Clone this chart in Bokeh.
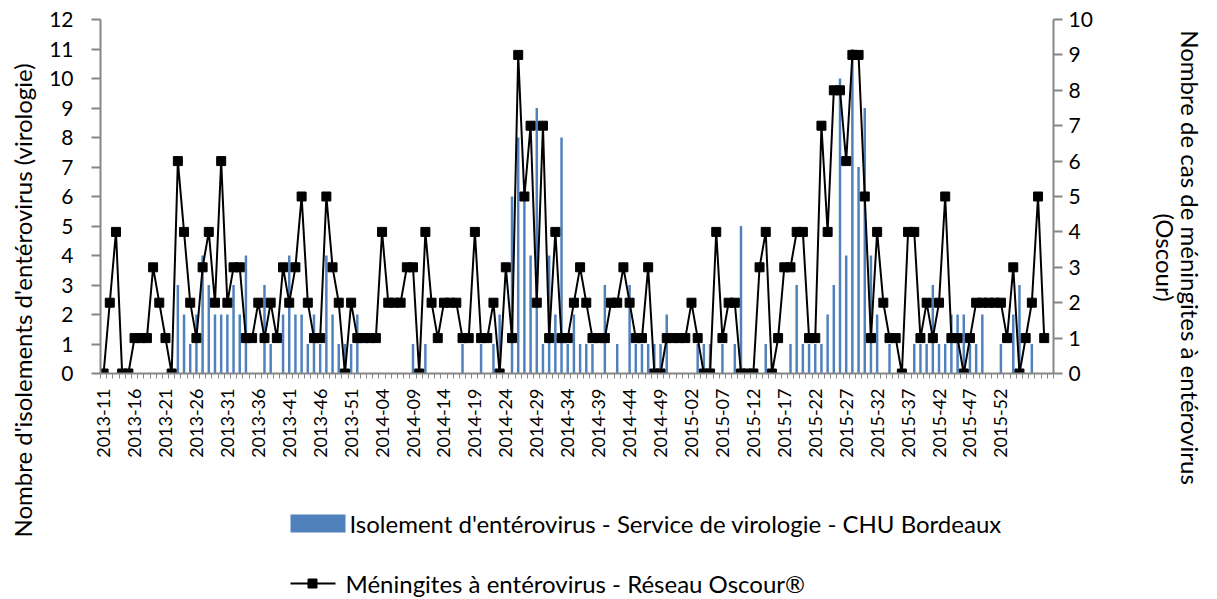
import math
from bokeh.plotting import figure
from bokeh.layouts import row, column
from bokeh.models import Range1d, LinearAxis, FixedTicker, ColumnDataSource
from bokeh.core.properties import value
from bokeh.embed import file_html
from bokeh.resources import INLINE

FONT = "Lato"

# Week categories (ISO year-week)
week_labels = ([f"2013-{w:02d}" for w in range(11, 53)] +
               [f"2014-{w:02d}" for w in range(1, 53)] +
               [f"2015-{w:02d}" for w in range(1, 54)] +
               [f"2016-{w:02d}" for w in range(1, 8)])

# Isolements d'entérovirus - virologie CHU Bordeaux (left axis)
virologie = [
    0, 0, 0, 0, 0, 0, 0, 0, 0, 0, 0, 0, 3, 2, 1, 2, 4, 3, 2, 2,
    2, 3, 2, 4, 0, 0, 3, 1, 0, 2, 4, 2, 2, 1, 2, 1, 4, 2, 1, 1,
    1, 2, 0, 0, 0, 0, 0, 0, 0, 0, 1, 0, 1, 0, 0, 0, 0, 0, 1, 0,
    0, 1, 0, 1, 2, 0, 6, 8, 6, 4, 9, 1, 4, 2, 8, 1, 2, 1, 1, 1,
    0, 3, 0, 1, 0, 3, 1, 1, 1, 1, 1, 2, 0, 0, 0, 0, 1, 1, 1, 0,
    1, 0, 1, 5, 0, 0, 0, 1, 0, 0, 0, 1, 3, 1, 1, 1, 1, 2, 3, 10,
    4, 11, 7, 9, 4, 2, 0, 1, 0, 0, 0, 1, 1, 1, 3, 1, 1, 2, 2, 2,
    1, 1, 2, 0, 0, 1, 0, 2, 3, 0, 1, 0, 0, 0,
]

# Méningites à entérovirus - Réseau Oscour (right axis)
oscour = [
    0, 2, 4, 0, 0, 1, 1, 1, 3, 2, 1, 0, 6, 4, 2, 1, 3, 4, 2, 6,
    2, 3, 3, 1, 1, 2, 1, 2, 1, 3, 2, 3, 5, 2, 1, 1, 5, 3, 2, 0,
    2, 1, 1, 1, 1, 4, 2, 2, 2, 3, 3, 0, 4, 2, 1, 2, 2, 2, 1, 1,
    4, 1, 1, 2, 0, 3, 1, 9, 5, 7, 2, 7, 1, 4, 1, 1, 2, 3, 2, 1,
    1, 1, 2, 2, 3, 2, 1, 1, 3, 0, 0, 1, 1, 1, 1, 2, 1, 0, 0, 4,
    1, 2, 2, 0, 0, 0, 3, 4, 0, 1, 3, 3, 4, 4, 1, 1, 7, 4, 8, 8,
    6, 9, 9, 5, 1, 4, 2, 1, 1, 0, 4, 4, 1, 2, 1, 2, 5, 1, 1, 0,
    1, 2, 2, 2, 2, 2, 1, 3, 0, 1, 2, 5, 1,
]

left_ticks = list(range(0, 13))
right_ticks = list(range(0, 11))
label_every = 5
last_labelled = 145  # 2015-52

left_title = "Nombre d'isolements d'entérovirus (virologie)"
right_title = ["Nombre de cas de méningites à entérovirus", "(Oscour)"]
legend_bar = "Isolement d'entérovirus - Service de virologie - CHU Bordeaux"
legend_line = "Méningites à entérovirus - Réseau Oscour®"

BLUE = "#4F81BD"
AX = "#868686"
TICK = "21px"
TXT = "24px"

bar_src = ColumnDataSource(dict(x=list(range(len(virologie))), top=virologie))
line_src = ColumnDataSource(dict(x=list(range(len(oscour))), y=oscour))

n = len(week_labels)


def blank(w, h, xr, yr):
    f = figure(width=w, height=h, x_range=xr, y_range=yr,
               x_axis_type=None, y_axis_type=None,
               output_backend="svg", toolbar_location=None,
               min_border=0)
    f.xgrid.visible = False
    f.ygrid.visible = False
    f.outline_line_color = None
    return f


# ---------- main chart ----------
p = figure(frame_width=953, frame_height=354,
           x_range=Range1d(-0.5, n - 0.5), y_range=Range1d(0, 12),
           output_backend="svg", toolbar_location=None,
           min_border_left=60, min_border_right=87,
           min_border_top=19, min_border_bottom=97)
p.extra_y_ranges = {"osc": Range1d(0, 10)}
p.xgrid.visible = False
p.ygrid.visible = False
p.outline_line_color = None

p.vbar(x="x", top="top", width=0.4, source=bar_src,
       fill_color=BLUE, line_color=None)
p.line(x="x", y="y", source=line_src, y_range_name="osc",
       line_color="black", line_width=2)
p.scatter(x="x", y="y", source=line_src, y_range_name="osc",
          marker="square", size=9, fill_color="black", line_color="black")

xa = p.xaxis[0]
xa.ticker = FixedTicker(ticks=list(range(0, last_labelled + 1, label_every)),
                        minor_ticks=[i - 0.5 for i in range(n + 1)])
xa.major_label_overrides = {i: week_labels[i] for i in range(0, last_labelled + 1, label_every)}
xa.major_label_orientation = math.pi / 2
xa.major_tick_out = 0
xa.major_tick_in = 0
xa.minor_tick_out = 5
xa.minor_tick_in = 0
xa.minor_tick_line_color = AX
xa.axis_line_color = AX
xa.axis_line_width = 2
xa.major_label_standoff = 10
xa.major_label_text_font = FONT
xa.major_label_text_font_size = "18px"
xa.major_label_text_color = "black"

ya = p.yaxis[0]
ya.ticker = FixedTicker(ticks=left_ticks)
ya.minor_tick_line_color = None
ya.major_tick_out = 9
ya.major_tick_in = 0
ya.major_tick_line_color = AX
ya.major_tick_line_width = 2
ya.axis_line_color = AX
ya.axis_line_width = 2
ya.major_label_standoff = 18
ya.major_label_text_font = FONT
ya.major_label_text_font_size = TICK
ya.major_label_text_color = "black"

ra = LinearAxis(y_range_name="osc", ticker=FixedTicker(ticks=right_ticks))
ra.minor_tick_line_color = None
ra.major_tick_out = 9
ra.major_tick_in = 0
ra.major_tick_line_color = AX
ra.major_tick_line_width = 2
ra.axis_line_color = AX
ra.axis_line_width = 2
ra.major_label_standoff = 6
ra.major_label_text_font = FONT
ra.major_label_text_font_size = TICK
ra.major_label_text_color = "black"
p.add_layout(ra, "right")

# ---------- left title ----------
H = 599
lt = blank(40, H, Range1d(0, 40), Range1d(0, H))
lt.text(x=[22], y=[H - 300], text=[left_title], angle=math.pi / 2,
        text_align="center", text_baseline="middle",
        text_font=value(FONT), text_font_size=value(TXT), text_color="black")

# ---------- right title ----------
rt = blank(75, H, Range1d(0, 75), Range1d(0, H))
rt.text(x=[50, 25], y=[H - 257, H - 257], text=right_title, angle=-math.pi / 2,
        text_align="center", text_baseline="middle",
        text_font=value(FONT), text_font_size=value(TXT), text_color="black")

# ---------- legend (frame aligned with main frame: page x 100..1053) ----------
LH = H - 470
lg = blank(1100, LH, Range1d(100, 1053), Range1d(LH, 0))
lg.quad(left=[290], right=[345], top=[44], bottom=[62], fill_color=BLUE, line_color=None)
lg.segment(x0=[290], y0=[113], x1=[335], y1=[113], line_color="black", line_width=2)
lg.scatter(x=[312], y=[113], marker="square", size=9, fill_color="black", line_color="black")
lg.text(x=[349, 345], y=[53, 113], text=[legend_bar, legend_line],
        text_align="left", text_baseline="middle",
        text_font=value(FONT), text_font_size=value(TXT), text_color="black")

layout = row(lt, column(p, lg), rt)

open("out.html", "w").write(file_html(layout, INLINE))
